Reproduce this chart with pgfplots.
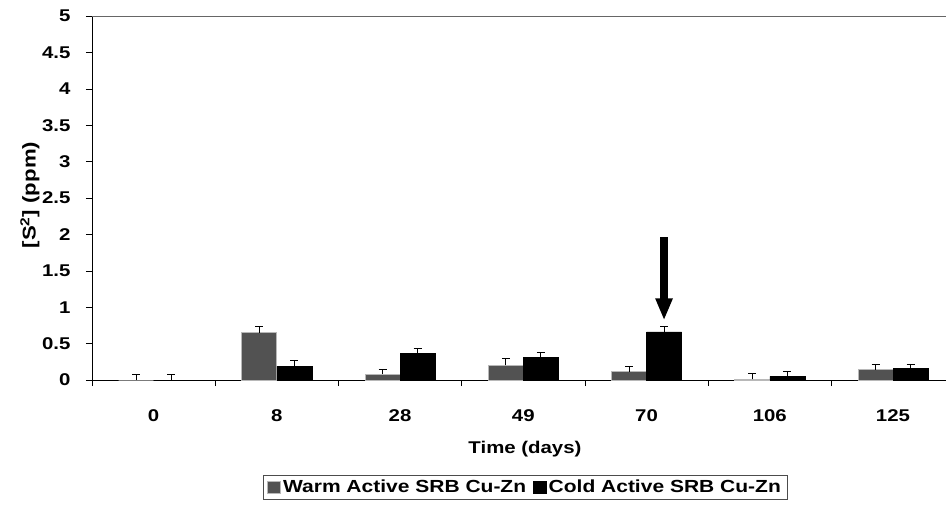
\documentclass[border=0pt]{standalone}
\usepackage{pgfplots}
\pgfplotsset{compat=1.18}
\usepackage{fontspec}
\setmainfont{Liberation Sans}[FakeStretch=1.2]
\usetikzlibrary{arrows.meta}

\begin{document}
\begin{tikzpicture}
\begin{axis}[name=ax, scale only axis, width=854pt, height=364pt,
  ybar=0pt, bar width=35pt,
  xmin=-0.5, xmax=6.43, ymin=0, ymax=5,
  axis x line*=bottom, axis y line*=left,
  axis line style={-, black, line width=0.8pt},
  tick align=outside, major tick length=6pt,
  tick style={black, line width=0.6pt},
  font=\bfseries\fontsize{17}{19}\selectfont,
  /pgf/number format/assume math mode=true,
  xtick={-0.5,0.5,1.5,2.5,3.5,4.5,5.5},
  xticklabels={0,8,28,49,70,106,125},
  xticklabel style={anchor=center, xshift=61.6pt, yshift=-29.5pt},
  ytick={0,0.5,...,5},
  yticklabel style={anchor=east, xshift=-12pt},
  xlabel={Time (days)},
  xlabel style={at={(axis description cs:0.507,-0.19)}, anchor=center},
  ylabel={[S\textsuperscript{2}] (ppm)},
  ylabel style={at={(axis description cs:-0.0726,0.508)}, anchor=center,
    font=\bfseries\fontsize{18.5}{20}\selectfont},
  legend columns=2,
  legend style={at={(axis description cs:0.507,-0.261)}, anchor=north,
    draw=black!70, line width=0.6pt, inner xsep=4pt, inner ysep=3pt,
    font=\bfseries\fontsize{17.5}{19}\selectfont,
    /tikz/every even column/.append style={column sep=5pt}},
  legend image code/.code={\draw[#1] (0pt,-6pt) rectangle (13pt,6pt);},
  error bars/y dir=plus, error bars/y explicit,
  error bars/error bar style={black, line width=0.8pt},
  error bars/error mark options={rotate=90, mark size=4pt, line width=0.8pt, black},
]
\addplot[fill=black!68, draw=black!28, line width=1pt] coordinates {
  (0,0) +- (0,0.08)
  (1,0.65) +- (0,0.09)
  (2,0.08) +- (0,0.07)
  (3,0.20) +- (0,0.10)
  (4,0.11) +- (0,0.07)
  (5,0.01) +- (0,0.08)
  (6,0.14) +- (0,0.07)
};
\addlegendentry{Warm Active SRB Cu-Zn}
\addplot[fill=black, draw=black, line width=0.5pt] coordinates {
  (0,0) +- (0,0.08)
  (1,0.19) +- (0,0.08)
  (2,0.37) +- (0,0.06)
  (3,0.31) +- (0,0.07)
  (4,0.66) +- (0,0.07)
  (5,0.05) +- (0,0.07)
  (6,0.16) +- (0,0.06)
};
\addlegendentry{Cold Active SRB Cu-Zn}
\draw[black!60, line width=0.8pt] (rel axis cs:0,1) -- (rel axis cs:1,1);
\draw[line width=8pt, -{Triangle[width=16pt, length=22pt]}]
  ([xshift=17.5pt]axis cs:4,1.96) -- ([xshift=17.5pt]axis cs:4,0.82);
\end{axis}
\pgfresetboundingbox
\path (ax.south west) ++(-92pt,-124pt) rectangle ++(946pt,504pt);
\end{tikzpicture}
\end{document}
